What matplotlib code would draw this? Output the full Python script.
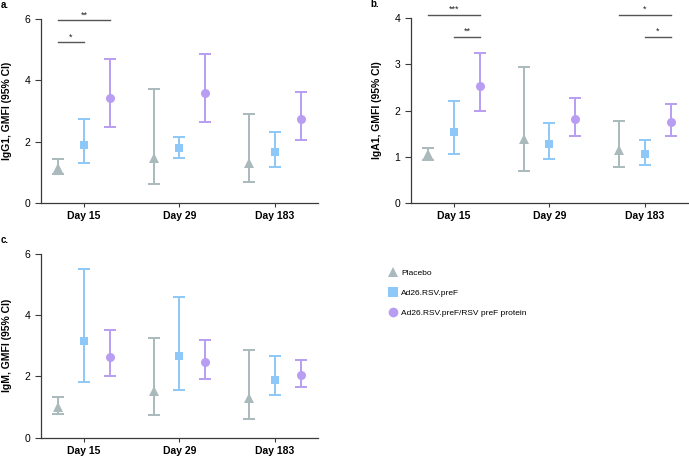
import matplotlib
matplotlib.use("Agg")
import matplotlib.pyplot as plt
from matplotlib.lines import Line2D

plt.rcParams['font.family'] = ['Liberation Sans', 'DejaVu Sans']

days = ["Day 15", "Day 29", "Day 183"]
groups = ["Placebo", "Ad26.RSV.preF", "Ad26.RSV.preF/RSV preF protein"]
colors = ["#A9B9BC", "#8DC8F8", "#B89DF2"]
markers = ["^", "s", "o"]

# IgG1: GMFI, lower CI, upper CI per group (rows) per day (cols)
igg1_gm = [[1.14, 1.46, 1.32], [1.90, 1.78, 1.65], [3.41, 3.58, 2.73]]
igg1_lo = [[0.94, 0.63, 0.67], [1.32, 1.48, 1.19], [2.48, 2.64, 2.05]]
igg1_hi = [[1.43, 3.72, 2.90], [2.73, 2.15, 2.31], [4.71, 4.87, 3.63]]

iga1_gm = [[1.05, 1.38, 1.14], [1.53, 1.28, 1.06], [2.52, 1.82, 1.76]]
iga1_lo = [[0.94, 0.69, 0.78], [1.06, 0.95, 0.82], [1.99, 1.45, 1.45]]
iga1_hi = [[1.20, 2.95, 1.78], [2.20, 1.73, 1.37], [3.24, 2.27, 2.13]]

igm_gm = [[0.99, 1.51, 1.29], [3.15, 2.66, 1.88], [2.64, 2.47, 2.03]]
igm_lo = [[0.77, 0.74, 0.62], [1.83, 1.57, 1.38], [2.01, 1.92, 1.65]]
igm_hi = [[1.31, 3.25, 2.87], [5.51, 4.58, 2.65], [3.51, 3.20, 2.52]]

# significance brackets: (day index, group from, group to, y, label)
igg1_sig = [(0, 0, 2, 5.96, "**"), (0, 0, 1, 5.24, "*")]
iga1_sig = [(0, 0, 2, 4.07, "***"), (0, 1, 2, 3.60, "**"),
            (2, 0, 2, 4.07, "*"), (2, 1, 2, 3.60, "*")]

offset = 0.27
spine_col = "#3a3a3a"

fig = plt.figure(figsize=(6.89, 4.57), dpi=100)
ax_a = fig.add_axes([0.0595, 0.5558, 0.402, 0.4026])
ax_b = fig.add_axes([0.5965, 0.5558, 0.402, 0.4048])
ax_c = fig.add_axes([0.0595, 0.0425, 0.402, 0.4017])


def panel(ax, gm, lo, hi, ymax, ylabel, letter, sig):
    for g in range(3):
        xs = [d + (g - 1) * offset for d in range(3)]
        yerr = [[gm[g][d] - lo[g][d] for d in range(3)],
                [hi[g][d] - gm[g][d] for d in range(3)]]
        ax.errorbar(xs, gm[g], yerr=yerr, fmt="none",
                    ecolor=colors[g], elinewidth=1.4, capsize=4, capthick=1.4,
                    zorder=2)
        ax.plot(xs, gm[g], linestyle="none", marker=markers[g], color=colors[g],
                markersize=6.5 if markers[g] != "s" else 6, markeredgewidth=0,
                zorder=3)
    for d, g1, g2, y, lab in sig:
        x1 = d + (g1 - 1) * offset
        x2 = d + (g2 - 1) * offset
        ax.plot([x1, x2], [y, y], color="#555555", lw=1.0, clip_on=False)
        ax.text((x1 + x2) / 2, y + ymax * 0.005, lab, ha="center", va="bottom",
                fontsize=6.5, color="#222222")
    ax.set_xlim(-0.45, 2.45)
    ax.set_ylim(0, ymax)
    ax.set_xticks(range(3))
    ax.set_xticklabels(days, fontweight="bold", fontsize=7.5)
    ax.set_yticks(range(0, ymax + 1, 2 if ymax == 6 else 1))
    ax.tick_params(axis="y", labelsize=7.5, length=4, width=0.8, color=spine_col)
    ax.tick_params(axis="x", length=3, width=0.8, color=spine_col, pad=3)
    for s in ["top", "right"]:
        ax.spines[s].set_visible(False)
    for s in ["left", "bottom"]:
        ax.spines[s].set_color(spine_col)
        ax.spines[s].set_linewidth(0.9)
    ax.set_ylabel(ylabel, fontweight="bold", fontsize=7.5, labelpad=9)
    ax.text(-0.145, 1.105, letter, transform=ax.transAxes, fontweight="bold",
            fontsize=7, ha="left", va="top")


panel(ax_a, igg1_gm, igg1_lo, igg1_hi, 6, "IgG1, GMFI (95% CI)", "a.", igg1_sig)
panel(ax_b, iga1_gm, iga1_lo, iga1_hi, 4, "IgA1, GMFI (95% CI)", "b.", iga1_sig)
panel(ax_c, igm_gm, igm_lo, igm_hi, 6, "IgM, GMFI (95% CI)", "c.", [])

handles = [Line2D([], [], marker=markers[g], color=colors[g], linestyle="none",
                  markersize=7, markeredgewidth=0) for g in range(3)]
fig.legend(handles, groups, loc="upper left", bbox_to_anchor=(0.553, 0.428),
           frameon=False, fontsize=6, handletextpad=0.5, labelspacing=1.45,
           handlelength=1.0)

fig.savefig("out.png", dpi=100)
